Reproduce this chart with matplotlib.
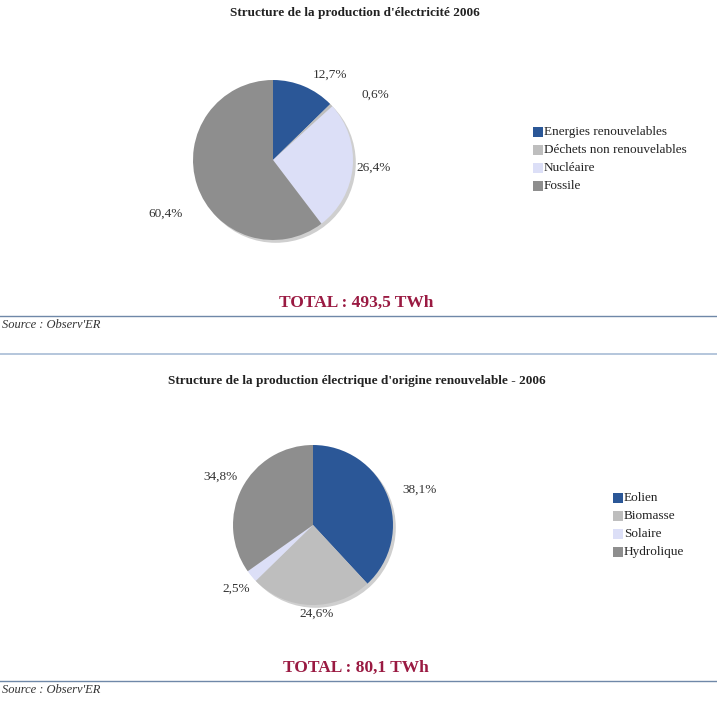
import matplotlib.pyplot as plt
from matplotlib.patches import Circle
import numpy as np

W, H = 717, 718

# chart 1
labels_1 = ["Energies renouvelables", "Déchets non renouvelables", "Nucléaire", "Fossile"]
values_1 = [12.7, 0.6, 26.4, 60.4]
title_1 = "Structure de la production d'électricité 2006"
total_1 = "TOTAL : 493,5 TWh"

# chart 2
labels_2 = ["Eolien", "Biomasse", "Solaire", "Hydrolique"]
values_2 = [38.1, 24.6, 2.5, 34.8]
title_2 = "Structure de la production électrique d'origine renouvelable - 2006"
total_2 = "TOTAL : 80,1 TWh"

colors = ["#2B5797", "#BEBEBE", "#DCDFF7", "#8E8E8E"]
serif = ["Liberation Serif", "DejaVu Serif"]

fig = plt.figure(figsize=(W / 100, H / 100), dpi=100)


def px_axes(cx, cy, half):
    return fig.add_axes([(cx - half) / W, (H - cy - half) / H, 2 * half / W, 2 * half / H])


def draw_pie(cx, cy, values, labels, label_dist, label_turn, leg_x, leg_y):
    ax = px_axes(cx, cy, 160)
    # soft shadow behind the pie
    ax.add_patch(Circle((0.035, -0.035), 1.0, facecolor="#CFCFCF", edgecolor="none", zorder=0))
    wedges, _ = ax.pie(values, colors=colors, startangle=90, counterclock=False,
                       radius=1.0, wedgeprops={"linewidth": 0})
    ax.set_xlim(-2, 2)
    ax.set_ylim(-2, 2)
    ax.set_aspect("equal")
    ax.axis("off")
    for w, v, d, t in zip(wedges, values, label_dist, label_turn):
        th = np.deg2rad((w.theta1 + w.theta2) / 2 + t)
        x, y = d * np.cos(th), d * np.sin(th)
        ax.text(x, y, f"{v:.1f}%".replace(".", ","), ha="center", va="center",
                fontsize=9.5, family=serif, color="#333333")
    # legend
    for i, lab in enumerate(labels):
        y = leg_y + i * 18
        fig.patches.append(plt.Rectangle(((leg_x) / W, (H - y - 5) / H), 10 / W, 10 / H,
                                         transform=fig.transFigure, facecolor=colors[i],
                                         edgecolor="none"))
        fig.text((leg_x + 11) / W, (H - y) / H, lab, ha="left", va="center",
                 fontsize=9.5, family=serif, color="#222222")


def header(y, x, text):
    fig.text(x / W, (H - y) / H, text, ha="center", va="center",
             fontsize=9.5, family=serif, weight="bold", color="#222222")


def footer(y, text):
    fig.text(356 / W, (H - y) / H, text, ha="center", va="center",
             fontsize=12.5, family=serif, weight="bold", color="#9A1A42")
    fig.add_artist(plt.Line2D([0, 1], [(H - y - 13) / H] * 2, color="#6F88A8", lw=1))
    fig.text(2 / W, (H - y - 22) / H, "Source : Observ'ER", ha="left", va="center",
             fontsize=9, family=serif, style="italic", color="#333333")


header(13, 355, title_1)
draw_pie(273, 160, values_1, labels_1, [1.28, 1.52, 1.26, 1.5], [-11, -11, 1, 8], 533, 132)
footer(303, total_1)
fig.add_artist(plt.Line2D([0, 1], [(H - 354) / H] * 2, color="#A8BCD6", lw=1.2))

header(381, 357, title_2)
draw_pie(313, 525, values_2, labels_2, [1.41, 1.11, 1.25, 1.3], [-3, 4, 0, 0], 613, 498)
footer(668, total_2)

fig.savefig("out.png", dpi=100, facecolor="white")
